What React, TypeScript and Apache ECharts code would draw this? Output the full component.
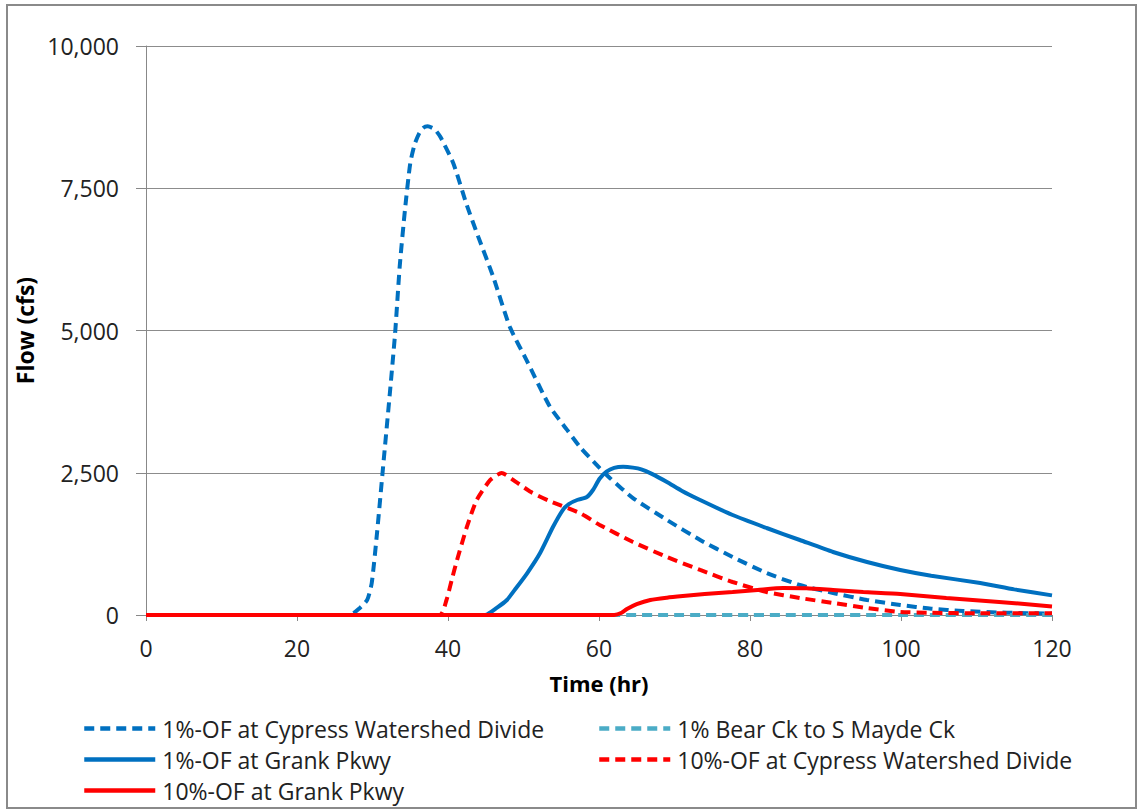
import React, { useEffect, useRef } from "react";
import * as echarts from "echarts";

const seriesNames = [
  "1%-OF at Cypress Watershed Divide",
  "1% Bear Ck to S Mayde Ck",
  "1%-OF at Grank Pkwy",
  "10%-OF at Cypress Watershed Divide",
  "10%-OF at Grank Pkwy",
];

const yTicks = [0, 2500, 5000, 7500, 10000];
const xTicks = [0, 20, 40, 60, 80, 100, 120];

const cypress1Time = [0, 27, 28.3, 29.3, 29.9, 30.6, 31.4, 32.3, 33, 33.6, 34.3, 35, 35.6, 36.2, 36.7, 37.3, 38.2, 39, 40.7, 42.5, 44, 46, 48.2, 50.4, 53.5, 55.8, 57.5, 60.1, 61.5, 64.5, 69, 73.4, 77.7, 82.2, 86.6, 91, 95.5, 99.9, 104, 108.2, 114, 120];
const cypress1Flow = [0, 0, 120, 264, 562, 1441, 2600, 3900, 4960, 6120, 7120, 7940, 8280, 8470, 8560, 8590, 8540, 8400, 7940, 7200, 6650, 5940, 5060, 4480, 3660, 3250, 2950, 2580, 2400, 2056, 1670, 1318, 1019, 738, 527, 387, 264, 176, 110, 70, 40, 25];

const bearTime = [0, 40, 80, 100, 120];
const bearFlow = [0, 0, 0, 0, 0];

const grank1Time = [0, 44.9, 46.5, 47.8, 49, 50.5, 52.2, 53.9, 55.2, 56, 57.1, 58.4, 59.2, 60.1, 61, 62, 63.2, 64.5, 65.6, 67, 69, 71, 73.4, 77.7, 82.2, 86.6, 91, 95.5, 99.9, 104, 110.5, 115, 120];
const grank1Flow = [0, 0, 130, 264, 470, 738, 1090, 1547, 1845, 1950, 2021, 2074, 2197, 2400, 2520, 2585, 2605, 2590, 2560, 2480, 2337, 2180, 2021, 1757, 1529, 1318, 1107, 931, 791, 690, 562, 450, 345];

const cypress10Time = [0, 38.9, 39.8, 40.5, 41.2, 42.5, 43.8, 45.6, 47.1, 49.1, 51, 53.5, 57.5, 60.1, 64.5, 69, 73.4, 77.7, 82.2, 86.6, 91, 95.5, 99.9, 104, 110, 120];
const cypress10Flow = [0, 0, 264, 620, 967, 1547, 2021, 2373, 2495, 2330, 2160, 2000, 1790, 1582, 1283, 1019, 791, 580, 404, 299, 211, 123, 53, 40, 30, 30];

const grank10Time = [0, 62, 63, 63.7, 65, 66.8, 69, 71.1, 74, 77.7, 81, 84.4, 87.5, 91, 95, 99.9, 106, 113, 120];
const grank10Flow = [0, 0, 40, 105, 190, 264, 305, 334, 370, 404, 440, 474, 470, 440, 405, 369, 299, 230, 150];

const FONT = "'Open Sans', sans-serif";
const BLUE = "#0070C0";
const RED = "#FF0000";
const TEAL = "#4BACC6";

function pairs(t: number[], v: number[]) {
  return t.map((x, i) => [x, v[i]]);
}

export default function App() {
  const ref = useRef<HTMLDivElement>(null);
  useEffect(() => {
    if (!ref.current) return;
    const chart = echarts.init(ref.current, null, { renderer: "svg" });
    const dash = [10, 6];
    const mk = (name: string, data: number[][], color: string, type: any) => ({
      name,
      type: "line",
      data,
      symbol: "none",
      showSymbol: false,
      smooth: 0.2,
      lineStyle: { color, width: 4, type },
      itemStyle: { color },
    });
    const legendCommon = {
      orient: "vertical",
      top: 712,
      itemWidth: 71,
      itemHeight: 14,
      itemGap: 8,
      itemStyle: { opacity: 0 },
      lineStyle: { width: 4.5 },
      textStyle: { fontFamily: FONT, fontSize: 23, color: "#222", padding: [0, 0, 0, 2] },
    };
    chart.setOption({
      animation: false,
      backgroundColor: "#ffffff",
      textStyle: { fontFamily: FONT },
      grid: { left: 146, right: 88, top: 46, bottom: 195, containLabel: false },
      xAxis: {
        type: "value",
        min: 0,
        max: 120,
        interval: 20,
        name: "Time (hr)",
        nameLocation: "middle",
        nameGap: 57,
        nameTextStyle: { fontFamily: FONT, fontSize: 22, fontWeight: "bold", color: "#000" },
        axisLine: { show: true, onZero: false, lineStyle: { color: "#888", width: 1 } },
        axisTick: { show: true, length: 6, inside: false, lineStyle: { color: "#888" } },
        axisLabel: {
          fontFamily: FONT,
          fontSize: 23,
          color: "#222",
          margin: 21,
          formatter: (v: number) => (xTicks.includes(v) ? String(v) : ""),
        },
        splitLine: { show: false },
      },
      yAxis: {
        type: "value",
        min: 0,
        max: 10000,
        interval: 2500,
        name: "Flow (cfs)",
        nameLocation: "middle",
        nameGap: 103,
        nameRotate: 90,
        nameTextStyle: { fontFamily: FONT, fontSize: 23, fontWeight: "bold", color: "#000" },
        axisLine: { show: true, lineStyle: { color: "#888", width: 1 } },
        axisTick: { show: true, length: 10, inside: false, lineStyle: { color: "#888" } },
        axisLabel: {
          fontFamily: FONT,
          fontSize: 23,
          color: "#222",
          margin: 27,
          formatter: (v: number) =>
            yTicks.includes(v) ? v.toLocaleString("en-US") : "",
        },
        splitLine: { show: true, lineStyle: { color: "#8c8c8c", width: 1 } },
      },
      legend: [
        {
          ...legendCommon,
          data: [seriesNames[0], seriesNames[2], seriesNames[4]],
          left: 77,
        },
        {
          ...legendCommon,
          data: [seriesNames[1], seriesNames[3]],
          left: 592,
        },
      ],
      graphic: [
        {
          type: "rect",
          shape: { x: 7, y: 5, width: 1129, height: 803 },
          style: { fill: "none", stroke: "#8a8a8a", lineWidth: 2 },
          silent: true,
          z: 100,
        },
      ],
      series: [
        mk(seriesNames[0], pairs(cypress1Time, cypress1Flow), BLUE, dash),
        mk(seriesNames[1], pairs(bearTime, bearFlow), TEAL, dash),
        mk(seriesNames[2], pairs(grank1Time, grank1Flow), BLUE, "solid"),
        mk(seriesNames[3], pairs(cypress10Time, cypress10Flow), RED, dash),
        mk(seriesNames[4], pairs(grank10Time, grank10Flow), RED, "solid"),
      ],
    });
    return () => chart.dispose();
  }, []);
  return (
    <div
      ref={ref}
      style={{ position: "fixed", left: 0, top: 0, width: 1140, height: 810, background: "#fff" }}
    />
  );
}
